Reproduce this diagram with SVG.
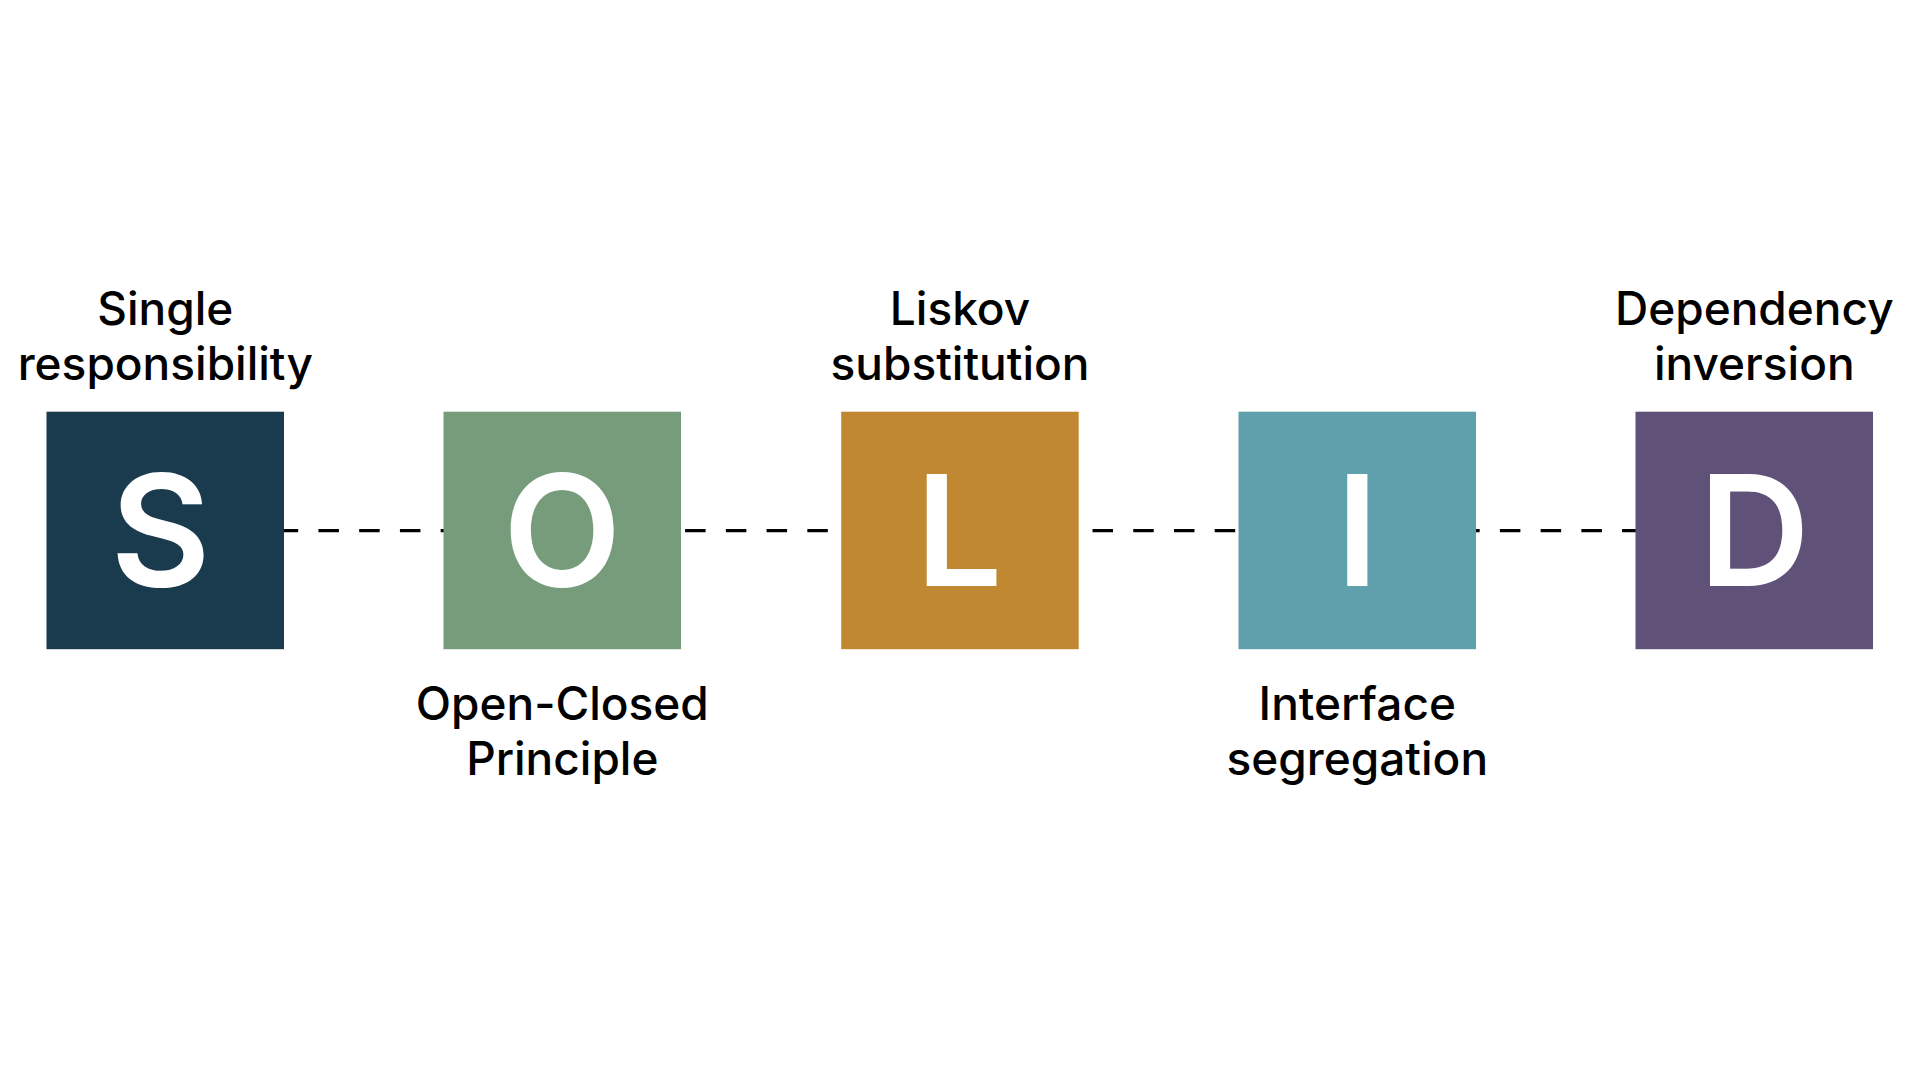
<svg xmlns="http://www.w3.org/2000/svg" width="1920" height="1080" viewBox="0 0 1920 1080">
  <style>
    .box { stroke: none; }
    .letter { font-family: Inter, "Noto Sans", "Liberation Sans", sans-serif; font-weight: 600; font-size: 154px; fill: #ffffff; text-anchor: middle; }
    .label { font-family: Inter, "Noto Sans", "Liberation Sans", sans-serif; font-weight: 500; font-size: 46px; fill: #000000; text-anchor: middle; }
    .conn { stroke: #000000; stroke-width: 3.4; stroke-dasharray: 20.5 20.24; fill: none; }
  </style>
  <rect width="1920" height="1080" fill="#ffffff"/>
  <g id="connectors">
    <line class="conn" x1="277.7" y1="530.6" x2="1636" y2="530.6"/>
  </g>
  <g id="node-S">
    <rect class="box" x="46.5" y="411.7" width="237.5" height="237.5" fill="#1A3B4E"/>
    <text class="letter" x="160.5" y="585.7">S</text>
    <text class="label" x="165.3" y="325">Single</text>
    <text class="label" x="165.3" y="380">responsibility</text>
  </g>
  <g id="node-O">
    <rect class="box" x="443.5" y="411.7" width="237.5" height="237.5" fill="#779C7B"/>
    <text class="letter" x="562.3" y="585.7">O</text>
    <text class="label" x="562.3" y="719.5">Open-Closed</text>
    <text class="label" x="562.3" y="774.5">Principle</text>
  </g>
  <g id="node-L">
    <rect class="box" x="841.2" y="411.7" width="237.5" height="237.5" fill="#C08830"/>
    <text class="letter" x="959" y="585.7">L</text>
    <text class="label" x="960" y="325">Liskov</text>
    <text class="label" x="960" y="380">substitution</text>
  </g>
  <g id="node-I">
    <rect class="box" x="1238.5" y="411.7" width="237.5" height="237.5" fill="#5FA0AC"/>
    <text class="letter" x="1357.3" y="585.7">I</text>
    <text class="label" x="1357.3" y="719.5">Interface</text>
    <text class="label" x="1357.3" y="774.5">segregation</text>
  </g>
  <g id="node-D">
    <rect class="box" x="1635.5" y="411.7" width="237.5" height="237.5" fill="#605179"/>
    <text class="letter" x="1754.3" y="585.7">D</text>
    <text class="label" x="1754.3" y="325">Dependency</text>
    <text class="label" x="1754.3" y="380">inversion</text>
  </g>
</svg>
